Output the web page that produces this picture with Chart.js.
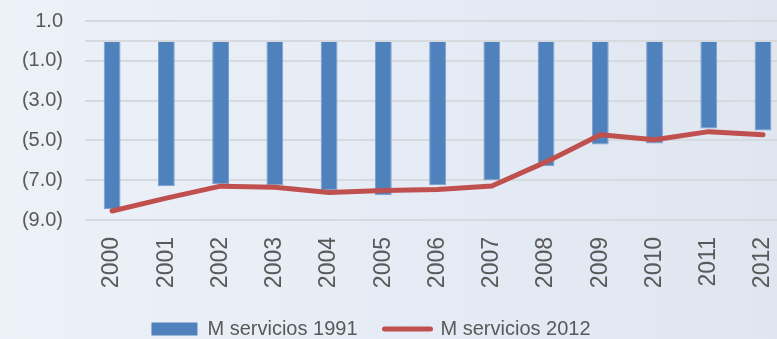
<!DOCTYPE html>
<html>
<head>
<meta charset="utf-8">
<script src="https://cdn.jsdelivr.net/npm/chart.js@4"></script>
<style>
  html, body { margin: 0; padding: 0; overflow: hidden; }
  body {
    width: 777px; height: 339px;
    background: linear-gradient(to right, #edf1f8 0%, #e6ecf5 50%, #dfe6f0 100%);
  }
  #wrap { position: absolute; left: 0; top: 0; width: 808px; height: 346px; }
</style>
</head>
<body>
<div id="wrap"><canvas id="c" width="808" height="346"></canvas></div>
<script>
// Years on the category axis
const years = ['2000', '2001', '2002', '2003', '2004', '2005', '2006',
               '2007', '2008', '2009', '2010', '2011', '2012'];

// M servicios, base 1991 (bars)
const servicios1991 = [-8.45, -7.3, -7.2, -7.25, -7.5, -7.75, -7.25,
                       -7.0, -6.3, -5.2, -5.15, -4.4, -4.5];

// M servicios, base 2012 (line)
const servicios2012 = [-8.55, -7.9, -7.3, -7.35, -7.62, -7.52, -7.47,
                       -7.29, -6.08, -4.72, -4.97, -4.56, -4.72];

// Value-axis tick values (0 only carries the baseline, no label)
const yTicks = [-9, -7, -5, -3, -1, 0, 1];

const seriesNames = ['M servicios 1991', 'M servicios 2012'];

const textColor = '#595959';
const fontFamily = '"Liberation Sans", Arial, sans-serif';

function fmt(v) {
  if (v === 0) return '';
  const s = Math.abs(v).toFixed(1);
  return v < 0 ? '(' + s + ')' : s;
}

// Moves the legend block to its place under the plot
const legendPlace = {
  id: 'legendPlace',
  afterLayout(chart) {
    const lg = chart.legend;
    if (!lg) return;
    const dx = -28, dy = 3;
    lg.left += dx; lg.right += dx;
    lg.top += dy; lg.bottom += dy;
  }
};

new Chart(document.getElementById('c'), {
  data: {
    labels: years,
    datasets: [
      {
        type: 'bar',
        label: seriesNames[0],
        data: servicios1991,
        backgroundColor: '#4f81bd',
        borderColor: '#7a9fcf',
        borderWidth: 1,
        categoryPercentage: 1,
        barPercentage: 0.31,
        order: 1
      },
      {
        type: 'line',
        label: seriesNames[1],
        data: servicios2012,
        borderColor: '#c0504d',
        backgroundColor: '#c0504d',
        borderWidth: 5,
        pointRadius: 0,
        tension: 0,
        borderCapStyle: 'round',
        borderJoinStyle: 'round',
        order: 0
      }
    ]
  },
  options: {
    responsive: false,
    animation: false,
    layout: { padding: { top: 21, right: 10, left: 0, bottom: 0 } },
    plugins: {
      tooltip: { enabled: false },
      legend: {
        position: 'bottom',
        labels: {
          usePointStyle: true,
          pointStyleWidth: 46,
          boxHeight: 13,
          padding: 27,
          color: textColor,
          font: { family: fontFamily, size: 20 },
          generateLabels(chart) {
            return chart.data.datasets.map((ds, i) => ({
              text: ds.label,
              fillStyle: ds.backgroundColor,
              strokeStyle: i === 1 ? ds.borderColor : ds.backgroundColor,
              lineWidth: i === 1 ? 5 : 0,
              lineCap: 'round',
              pointStyle: i === 1 ? 'line' : 'rect',
              fontColor: textColor,
              hidden: false,
              datasetIndex: i
            }));
          }
        }
      }
    },
    scales: {
      x: {
        type: 'category',
        offset: true,
        grid: { display: false, drawTicks: false },
        border: { display: false },
        afterFit(scale) { scale.height = 69; },
        ticks: {
          minRotation: 90,
          maxRotation: 90,
          padding: 17,
          color: textColor,
          font: { family: fontFamily, size: 23 }
        }
      },
      y: {
        type: 'linear',
        min: -9,
        max: 1,
        afterFit(scale) {
          scale.width = 85;
          // label gap is horizontal only; keep vertical room to half a label
          scale.paddingTop = 12;
          scale.paddingBottom = 12;
        },
        afterBuildTicks(scale) {
          scale.ticks = yTicks.map(v => ({ value: v }));
        },
        grid: { color: '#d6d9dd', lineWidth: 2, drawTicks: false },
        border: { display: false },
        ticks: {
          padding: 22,
          color: textColor,
          font: { family: fontFamily, size: 20 },
          callback: (v) => fmt(v)
        }
      }
    }
  },
  plugins: [legendPlace]
});
</script>
</body>
</html>
